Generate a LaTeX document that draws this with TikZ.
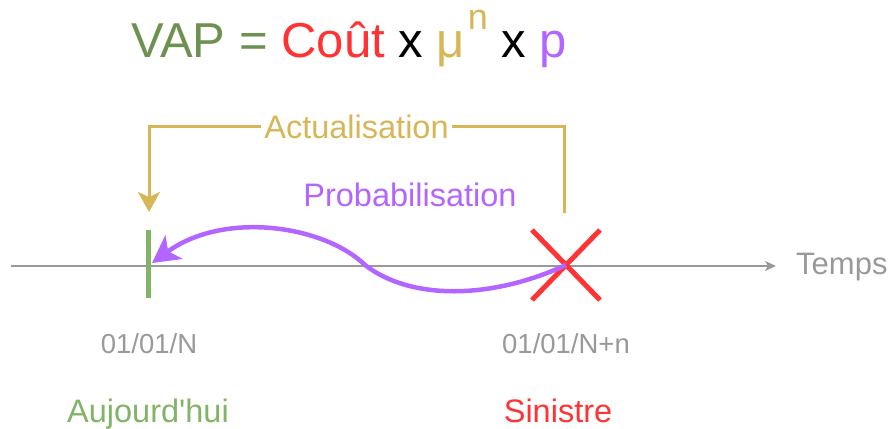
\documentclass[tikz,border=0pt]{standalone}
\usepackage{fontspec}
\setmainfont{Liberation Sans}
\usetikzlibrary{arrows.meta}
\definecolor{vapgreen}{HTML}{6D9150}
\definecolor{tickgreen}{HTML}{82B366}
\definecolor{redx}{HTML}{FF3333}
\definecolor{gold}{HTML}{D6B656}
\definecolor{purp}{HTML}{B266FF}
\definecolor{grayt}{HTML}{999999}
\newcommand{\fs}[1]{\fontsize{#1}{#1}\selectfont}
\begin{document}
\begin{tikzpicture}[x=1pt,y=-1pt,
  lbl/.style={inner sep=0pt, anchor=base},
  bigl/.style={lbl, font=\fs{32.5}},
  datel/.style={lbl, font=\fs{27.5}, text=grayt}]
\useasboundingbox (0,0) rectangle (890,428);
% title
\node[inner sep=0pt, anchor=base west] (title) at (131,57) {\fs{49}\textcolor{vapgreen}{VAP = }\textcolor{redx}{Coût} x \textcolor{gold}{μ\kern3pt\raisebox{28pt}{\fs{36}n}} x \textcolor{purp}{p}};
% timeline
\coordinate (tl0) at (11,266);
\coordinate (tl1) at (776,266);
\draw[grayt, line width=1.5pt, -{Stealth[length=11pt,width=10pt,inset=3pt]}] (tl0) -- (tl1);
\node[lbl, font=\fs{31}, text=grayt, anchor=base west] (temps) at (796,274) {Temps};
% tick
\coordinate (tickT) at (148,230);
\coordinate (tickB) at (148,298);
\draw[tickgreen, line width=5pt] (tickT) -- (tickB);
% red X
\coordinate (xc) at (566,265);
\coordinate (x1) at (532,230);
\coordinate (x2) at (600,300);
\coordinate (x3) at (600,230);
\coordinate (x4) at (532,300);
\draw[redx, line width=5pt] (x1) -- (x2) (x3) -- (x4);
% actualisation bracket
\coordinate (aR) at (564,213);
\coordinate (aRT) at (564,126);
\coordinate (aLT) at (149,126);
\coordinate (aL) at (149,212);
\draw[gold, line width=3pt, -{Stealth[length=20pt,width=22pt,inset=5pt]}] (aR) -- (aRT) -- node[bigl, text=gold, fill=white, inner xsep=3pt, anchor=center, yshift=-1pt] (act) {Actualisation} (aLT) -- (aL);
% probabilisation
\node[bigl, text=purp] (prob) at (410,206) {Probabilisation};
\coordinate (pm) at (365,265);
\coordinate (pend) at (152,263);
\draw[purp, line width=4.5pt, -{Stealth[length=27pt,width=29pt,inset=7pt]}] (xc) .. controls (490,300) and (410,300) .. (pm) .. controls (325,226) and (225,210) .. (pend);
% dates and labels
\node[datel] (d1) at (149,353) {01/01/N};
\node[datel] (d2) at (566,353) {01/01/N+n};
\node[bigl, text=tickgreen] (auj) at (148,422) {Aujourd\textquotesingle hui};
\node[bigl, text=redx] (sin) at (558,422) {Sinistre};
\end{tikzpicture}
\end{document}
